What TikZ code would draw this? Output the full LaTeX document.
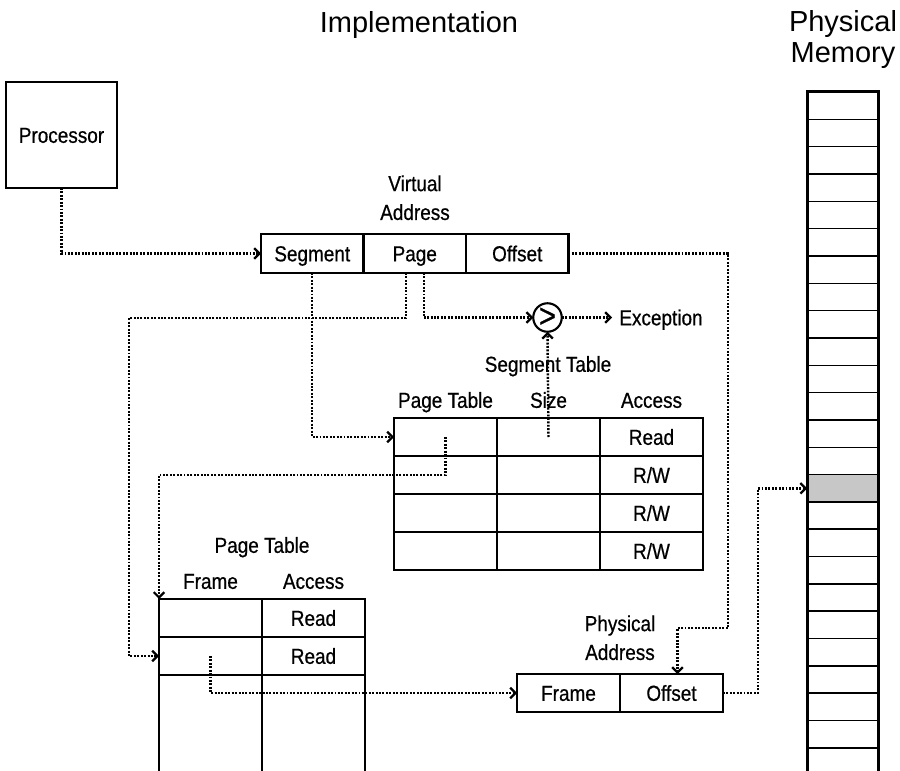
\documentclass[tikz,border=0pt]{standalone}
\usepackage{fontspec}
\setmainfont{Liberation Sans}
\newfontfamily\narrowfont[FakeStretch=0.87,FakeBold=0.6]{Liberation Sans}
\usepackage{tikz}
\usetikzlibrary{arrows.meta,calc}
\tikzset{
    Cell/.style = {draw,line width=1.2pt,inner sep=0pt,outer sep=0pt,
        minimum width=2.06cm,minimum height=0.76cm,
        font=\narrowfont\fontsize{12.4}{14}\selectfont,text height=8.9pt,text depth=0pt},
    Label/.style = {inner sep=0pt,font=\narrowfont\fontsize{12.4}{14}\selectfont,
        text height=8.9pt,text depth=0pt},
    Caption/.style = {inner sep=0pt,align=center,anchor=south,
        font=\narrowfont\fontsize{12.4}{16.4}\selectfont},
    Title/.style = {inner sep=0pt,align=center,font=\fontsize{16.5}{17.6}\selectfont},
    MemCell/.style = {draw,line width=0.9pt,inner sep=0pt,minimum width=1.4cm,minimum height=0.5467cm},
    Dots/.style = {line width=1.4pt,dash pattern=on 1.1pt off 0.85pt,
        -{Straight Barb[length=3pt,width=6pt,line width=1.3pt]}}
}

\begin{document}
\begin{tikzpicture}[x=0.02cm,y=-0.02cm]
        \useasboundingbox (0,0) rectangle (900,771);
        \node[Title,anchor=base] (title) at (419,32) {Implementation};
        \node[Title,anchor=south] (memtitle) at (843,69) {Physical\\Memory};
        \node[Cell,minimum width=2.22cm,minimum height=2.12cm] (proc) at (61.5,135) {Processor};
        \node[Caption] (valabel) at (415,220.5) {Virtual\\Address};
        \foreach \n/\t [count=\i] in {seg/Segment,page/Page,off/Offset}
            {\node[Cell,minimum width=2.05cm,minimum height=0.78cm] (va-\n) at ({261+102.5*(\i-0.5)},253.5) {\t};}
        \node[Cell,circle,minimum size=0.57cm,text height=11pt,
            font=\narrowfont\fontsize{19}{19}\selectfont] (cmp) at (547.5,317.5) {>};
        \node[Label,anchor=west,inner xsep=4pt] (exc) at (612,317.5) {Exception};
        \node[Label] (stlabel) at (548,364) {Segment Table};
        \foreach \t [count=\i] in {Page Table,Size,Access}
            {\node[Label] (st-head-\i) at ({394+103*(\i-0.5)},400) {\t};}
        \foreach \acc [count=\r] in {Read,{R/W},{R/W},{R/W}}
            {\node[Cell] (st-\r-1) at (445.5,{418+38*(\r-0.5)}) {};
             \node[Cell] (st-\r-2) at (548.5,{418+38*(\r-0.5)}) {};
             \node[Cell] (st-\r-3) at (651.5,{418+38*(\r-0.5)}) {\acc};}
        \node[Label] (ptlabel) at (262,545) {Page Table};
        \node[Label] (pt-head-1) at (210.5,581) {Frame};
        \node[Label] (pt-head-2) at (313.5,581) {Access};
        \foreach \r in {1,2}
            {\node[Cell] (pt-\r-1) at (210.5,{599+38*(\r-0.5)}) {};
             \node[Cell] (pt-\r-2) at (313.5,{599+38*(\r-0.5)}) {Read};}
        \foreach \a in {pt-2-1.south west,pt-2-1.south east,pt-2-2.south east}
            {\draw[line width=1.2pt] (\a) -- (\a |- 0,780);}
        \node[Caption] (palabel) at (620,660.5) {Physical\\Address};
        \node[Cell] (pa-frame) at (568.5,693) {Frame};
        \node[Cell] (pa-off) at (671.5,693) {Offset};
        \foreach \i in {0,...,24}
            {\node[MemCell] (mem-\i) at (843,{92+27.33*(\i+0.5)}) {};}
        \node[MemCell,fill=black!22] (mem-hit) at (mem-14) {};
        \draw[line width=1.2pt] (mem-24.south west) -- (mem-0.north west) -- (mem-0.north east) -- (mem-24.south east);
        \coordinate (ptbend) at (129,318);
        \coordinate (offbend) at (728,628);
        \coordinate (membend) at (758,693);
        \draw[Dots] (proc.south) |- (va-seg.west);
        \draw[Dots] (va-seg.south) |- (st-1-1.west);
        \draw[Dots] ($(va-page.south)+(-9,0)$) |- (ptbend) |- (pt-2-1.west);
        \draw[Dots] ($(va-page.south)+(9,0)$) |- (cmp.west);
        \draw[Dots] (cmp.east) -- (exc.west);
        \draw[Dots] (st-1-2.center) -- (cmp.south);
        \draw[Dots] (st-1-1.center) -- (st-2-1.center) -| (pt-1-1.north west);
        \draw[Dots] (pt-2-1.center) |- (pa-frame.west);
        \draw[Dots] (va-off.east) -| (offbend) -| ($(pa-off.north)+(6,0)$);
        \draw[Dots] (pa-off.east) -- (membend) |- (mem-hit.west);
\end{tikzpicture}
\end{document}
